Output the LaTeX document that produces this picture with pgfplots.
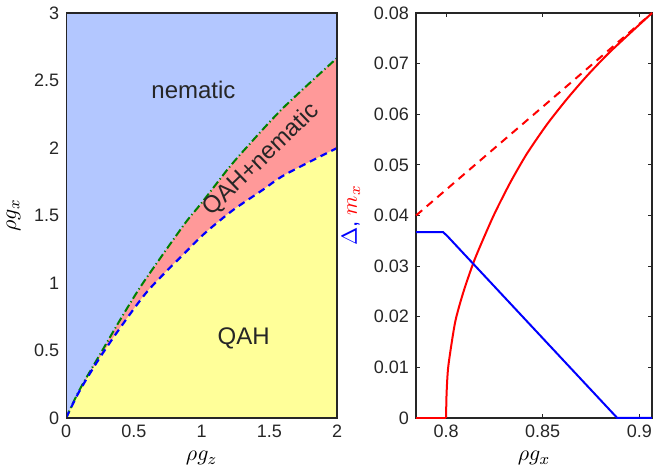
\documentclass[border=0pt]{standalone}
\usepackage{fontspec}
\setmainfont{Liberation Sans}
\usepackage{pgfplots}
\pgfplotsset{compat=1.18}
\definecolor{nemblue}{RGB}{179,199,255}
\definecolor{mixpink}{RGB}{255,153,153}
\definecolor{qahyellow}{RGB}{255,255,153}
\definecolor{bdgreen}{RGB}{0,128,0}
\begin{document}
\begin{tikzpicture}
\pgfplotsset{
  every axis/.append style={
    scale only axis,
    height=202.5pt,
    tick label style={font=\fontsize{9}{10}\selectfont, text=black!85},
    label style={font=\fontsize{11}{12}\selectfont},
    /pgf/number format/assume math mode=true,
    axis line style={black!85, line width=0.6pt},
    scaled ticks=false,
  },
}
% left panel: phase diagram
\begin{axis}[
  name=left,
  width=135.5pt,
  xmin=0, xmax=2, ymin=0, ymax=3,
  xtick={0,0.5,1,1.5,2}, xticklabels={0,0.5,1,1.5,2},
  ytick={0,0.5,1,1.5,2,2.5,3}, yticklabels={0,0.5,1,1.5,2,2.5,3},
  major tick length=0pt,
  xlabel={$\rho g_z$}, ylabel={$\rho g_x$},
  axis on top,
]
\addplot[fill=nemblue, draw=none] coordinates {(0,3) (2,3)} \closedcycle;
\addplot[fill=mixpink, draw=none, smooth, tension=0.5] coordinates {
  (0,0) (0.1,0.21) (0.271,0.507) (0.407,0.741) (0.543,0.963) (0.679,1.161)
  (0.765,1.284) (0.889,1.457) (1.0,1.593) (1.123,1.753) (1.21,1.864)
  (1.328,2.0) (1.605,2.3) (2,2.667)} \closedcycle;
\addplot[fill=qahyellow, draw=none, smooth, tension=0.5] coordinates {
  (0,0) (0.099,0.2) (0.247,0.444) (0.407,0.679) (0.58,0.914) (0.716,1.062)
  (0.864,1.21) (1.012,1.358) (1.173,1.494) (1.271,1.568) (1.452,1.69)
  (1.617,1.803) (2,2.0)} \closedcycle;
\addplot[bdgreen, line width=1pt, smooth, tension=0.5, dash pattern=on 4pt off 1.5pt on 0.6pt off 1.5pt] coordinates {
  (0,0) (0.1,0.21) (0.271,0.507) (0.407,0.741) (0.543,0.963) (0.679,1.161)
  (0.765,1.284) (0.889,1.457) (1.0,1.593) (1.123,1.753) (1.21,1.864)
  (1.328,2.0) (1.605,2.3) (2,2.667)};
\addplot[blue, line width=1.1pt, smooth, tension=0.5, dash pattern=on 3.5pt off 2.5pt] coordinates {
  (0,0) (0.099,0.2) (0.247,0.444) (0.407,0.679) (0.58,0.914) (0.716,1.062)
  (0.864,1.21) (1.012,1.358) (1.173,1.494) (1.271,1.568) (1.452,1.69)
  (1.617,1.803) (2,2.0)};
\node[font=\fontsize{12}{13}\selectfont, text=black!85] at (axis cs:0.94,2.43) {nematic};
\node[font=\fontsize{12}{13}\selectfont, text=black!85, rotate=44] at (axis cs:1.44,1.91) {QAH+nematic};
\node[font=\fontsize{12}{13}\selectfont, text=black!85] at (axis cs:1.31,0.59) {QAH};
\end{axis}
% right panel: order parameters
\begin{axis}[
  name=right,
  at={(175pt,0pt)}, anchor=south west,
  width=118pt,
  xmin=0.7845, xmax=0.9065, ymin=0, ymax=0.08,
  xtick={0.8,0.85,0.9}, xticklabels={0.8,0.85,0.9},
  ytick={0,0.01,0.02,0.03,0.04,0.05,0.06,0.07,0.08},
  yticklabels={0,0.01,0.02,0.03,0.04,0.05,0.06,0.07,0.08},
  tick align=inside, tick pos=both, major tick length=2pt,
  major tick style={black!85, line width=0.5pt},
  xlabel={$\rho g_x$},
  ylabel={\textcolor{blue}{$\Delta$,} \textcolor{red}{$m_x$}},
  clip=false,
]
\addplot[red, line width=1pt, dash pattern=on 4pt off 3pt] coordinates {
  (0.7845,0.04) (0.9065,0.08)};
\addplot[red, line width=1pt] coordinates {(0.7845,0) (0.8,0)};
\addplot[red, line width=1pt, smooth, tension=0.4] coordinates {
  (0.8,0) (0.8003,0.005) (0.8012,0.0103) (0.8047,0.0189) (0.809,0.0249)
  (0.815,0.0315) (0.8245,0.0399) (0.8332,0.0465) (0.8418,0.0522)
  (0.8522,0.0580) (0.8625,0.0630) (0.8729,0.0676) (0.885,0.0724)
  (0.9065,0.08)};
\addplot[blue, line width=1pt] coordinates {
  (0.7845,0.0367) (0.7985,0.0367) (0.8005,0.036) (0.8885,0) (0.9065,0)};
\end{axis}
\coordinate (bbA) at (current bounding box.south west);
\coordinate (bbB) at (current bounding box.north east);
\pgfresetboundingbox
\path[use as bounding box] (bbA) rectangle ([xshift=0.5pt]right.south east |- bbB);
\end{tikzpicture}
\end{document}
